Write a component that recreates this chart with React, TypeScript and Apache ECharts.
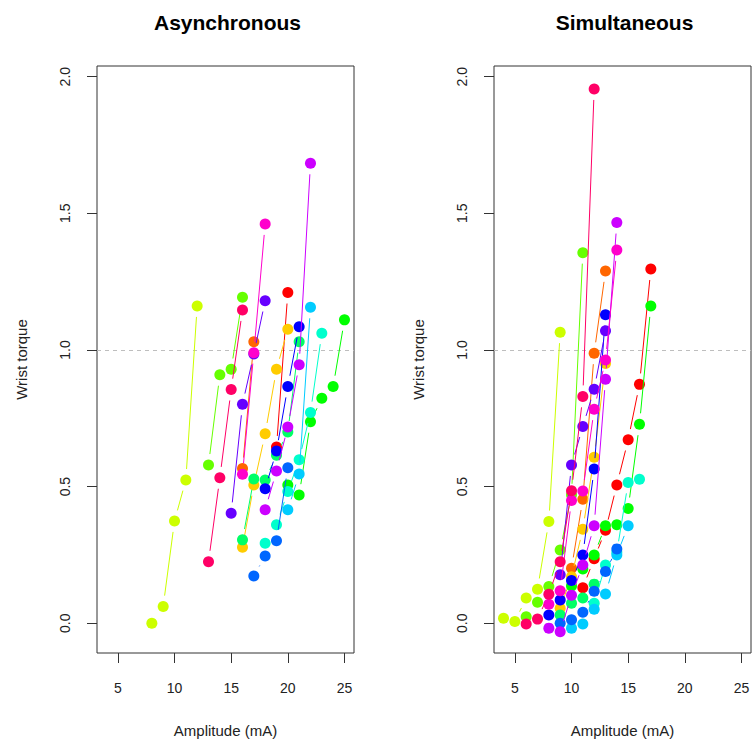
import React, { useEffect, useRef } from "react";
import * as echarts from "echarts";

// Subject colours: HSV rainbow with 15 evenly spaced hues
const rainbow15 = [
  "#FF0000", "#FF6600", "#FFCC00", "#CCFF00", "#66FF00",
  "#00FF00", "#00FF66", "#00FFCC", "#00CCFF", "#0066FF",
  "#0000FF", "#6600FF", "#CC00FF", "#FF00CC", "#FF0066",
];

// Asynchronous stimulation, per subject: [amplitude (mA), wrist torque]
const asyncS01 = [[19, 0.645], [20, 1.21]];
const asyncS02 = [[16, 0.566], [17, 1.03]];
const asyncS03 = [[16, 0.278], [17, 0.506], [18, 0.693], [19, 0.929], [20, 1.076]];
const asyncS04 = [[8, 0.0], [9, 0.061], [10, 0.374], [11, 0.524], [12, 1.161]];
const asyncS05 = [[13, 0.579], [14, 0.909], [15, 0.929], [16, 1.193]];
const asyncS06 = [[20, 0.506], [21, 0.469], [22, 0.737], [23, 0.823], [24, 0.866], [25, 1.11]];
const asyncS07 = [[16, 0.305], [17, 0.528], [18, 0.524], [19, 0.615], [20, 0.7], [21, 1.03]];
const asyncS08 = [[18, 0.293], [19, 0.36], [20, 0.482], [21, 0.598], [22, 0.771], [23, 1.061]];
const asyncS09 = [[20, 0.415], [21, 0.546], [22, 1.156]];
const asyncS10 = [[17, 0.173], [18, 0.246], [19, 0.302], [20, 0.569]];
const asyncS11 = [[18, 0.492], [19, 0.63], [20, 0.866], [21, 1.085]];
const asyncS12 = [[15, 0.402], [16, 0.801], [17, 0.985], [18, 1.18]];
const asyncS13 = [[18, 0.415], [19, 0.557], [20, 0.718], [21, 0.946], [22, 1.683]];
const asyncS14 = [[16, 0.545], [17, 0.99], [18, 1.461]];
const asyncS15 = [[13, 0.225], [14, 0.532], [15, 0.855], [16, 1.146]];

// Simultaneous stimulation, per subject: [amplitude (mA), wrist torque]
const simS01 = [[11, 0.13], [12, 0.236], [13, 0.34], [14, 0.506], [15, 0.671], [16, 0.874], [17, 1.296]];
const simS02 = [[10, 0.201], [11, 0.454], [12, 0.988], [13, 1.289]];
const simS03 = [[9, 0.055], [10, 0.17], [11, 0.344], [12, 0.607], [13, 0.95]];
const simS04 = [[4, 0.018], [5, 0.006], [6, 0.092], [7, 0.124], [8, 0.372], [9, 1.065]];
const simS05 = [[6, 0.024], [7, 0.077], [8, 0.134], [9, 0.268], [10, 0.47], [11, 1.356]];
const simS06 = [[10, 0.136], [11, 0.198], [12, 0.25], [13, 0.357], [14, 0.36], [15, 0.42], [16, 0.728], [17, 1.161]];
const simS07 = [[9, 0.03], [10, 0.073], [11, 0.092], [12, 0.143]];
const simS08 = [[12, 0.073], [13, 0.213], [14, 0.26], [15, 0.515], [16, 0.527]];
const simS09 = [[10, -0.018], [11, -0.003], [12, 0.051], [13, 0.107], [14, 0.25], [15, 0.357]];
const simS10 = [[9, 0.0], [10, 0.013], [11, 0.04], [12, 0.117], [13, 0.189], [14, 0.272]];
const simS11 = [[8, 0.03], [9, 0.085], [10, 0.156], [11, 0.25], [12, 0.564], [13, 1.129]];
const simS12 = [[9, 0.177], [10, 0.579], [11, 0.72], [12, 0.856], [13, 1.07]];
const simS13 = [[8, -0.018], [9, -0.031], [10, 0.102], [11, 0.213], [12, 0.357], [13, 0.893], [14, 1.466]];
const simS14 = [[8, 0.069], [9, 0.119], [10, 0.449], [11, 0.484], [12, 0.783], [13, 0.963], [14, 1.366]];
const simS15 = [[6, -0.003], [7, 0.015], [8, 0.106], [9, 0.225], [10, 0.485], [11, 0.83], [12, 1.955]];

const asyncData = [
  asyncS01, asyncS02, asyncS03, asyncS04, asyncS05, asyncS06, asyncS07, asyncS08,
  asyncS09, asyncS10, asyncS11, asyncS12, asyncS13, asyncS14, asyncS15,
];
const simData = [
  simS01, simS02, simS03, simS04, simS05, simS06, simS07, simS08,
  simS09, simS10, simS11, simS12, simS13, simS14, simS15,
];

const panelTitles = ["Asynchronous", "Simultaneous"];
const xTicks = [5, 10, 15, 20, 25];
const yTicks = [0, 0.5, 1, 1.5, 2];
const xRange = [3.16, 25.84];
const yRange = [-0.109, 2.039];
const referenceTorque = 1;

const FONT = '"Liberation Sans", Arial, Helvetica, sans-serif';
const GAP = 11; // line stops short of each point, like R's type = "b"
const gridLefts = [97, 494];
const GRID_TOP = 66;
const GRID_W = 257;
const GRID_H = 587;

function panelSeries(data: number[][][], axisIndex: number): any[] {
  const out: any[] = [];
  data.forEach((pts, i) => {
    const color = rainbow15[i];
    const segs = pts.slice(1).map((p, j) => [pts[j][0], pts[j][1], p[0], p[1]]);
    out.push({
      type: "custom",
      xAxisIndex: axisIndex,
      yAxisIndex: axisIndex,
      z: 10 + 2 * i,
      silent: true,
      clip: false,
      encode: { x: [0, 2], y: [1, 3] },
      data: segs,
      renderItem: (_params: any, api: any) => {
        const a = api.coord([api.value(0), api.value(1)]);
        const b = api.coord([api.value(2), api.value(3)]);
        const dx = b[0] - a[0];
        const dy = b[1] - a[1];
        const len = Math.hypot(dx, dy);
        if (len <= 2 * GAP) return { type: "group", children: [] };
        const ux = dx / len;
        const uy = dy / len;
        return {
          type: "line",
          shape: {
            x1: a[0] + ux * GAP,
            y1: a[1] + uy * GAP,
            x2: b[0] - ux * GAP,
            y2: b[1] - uy * GAP,
          },
          style: { stroke: color, lineWidth: 1 },
        };
      },
    });
    const scatter: any = {
      type: "scatter",
      xAxisIndex: axisIndex,
      yAxisIndex: axisIndex,
      z: 11 + 2 * i,
      silent: true,
      symbol: "circle",
      symbolSize: 11,
      itemStyle: { color, opacity: 1 },
      data: pts,
    };
    if (i === data.length - 1) {
      scatter.markLine = {
        silent: true,
        symbol: ["none", "none"],
        label: { show: false },
        lineStyle: { color: "#BEBEBE", type: [4, 4], width: 1 },
        data: [{ yAxis: referenceTorque }],
      };
    }
    out.push(scatter);
  });
  return out;
}

export default function App() {
  const ref = useRef<HTMLDivElement>(null);

  useEffect(() => {
    if (!ref.current) return;
    const chart = echarts.init(ref.current, undefined, { renderer: "svg" });

    const grids = gridLefts.map((left) => ({
      left,
      top: GRID_TOP,
      width: GRID_W,
      height: GRID_H,
      show: true,
      borderColor: "#333",
      borderWidth: 1,
      backgroundColor: "transparent",
    }));

    const xAxes = gridLefts.map((_, k) => ({
      gridIndex: k,
      type: "value",
      position: "bottom",
      min: xRange[0],
      max: xRange[1],
      splitLine: { show: false },
      axisLine: { show: false, onZero: false },
      axisTick: {
        show: true,
        inside: false,
        length: 10,
        lineStyle: { color: "#333", width: 1 },
        customValues: xTicks,
      },
      axisLabel: {
        customValues: xTicks,
        margin: 28,
        fontSize: 14,
        color: "#222",
        fontFamily: FONT,
      },
      name: "Amplitude (mA)",
      nameLocation: "middle",
      nameGap: 70,
      nameTextStyle: { fontSize: 15, color: "#222", fontFamily: FONT },
    }));

    const yAxes = gridLefts.map((_, k) => ({
      gridIndex: k,
      type: "value",
      position: "left",
      min: yRange[0],
      max: yRange[1],
      splitLine: { show: false },
      axisLine: { show: false, onZero: false },
      axisTick: {
        show: true,
        inside: false,
        length: 10,
        lineStyle: { color: "#333", width: 1 },
        customValues: yTicks,
      },
      axisLabel: {
        customValues: yTicks,
        rotate: 90,
        margin: 25,
        fontSize: 14,
        color: "#222",
        fontFamily: FONT,
        formatter: (v: number) => v.toFixed(1),
      },
      name: "Wrist torque",
      nameLocation: "middle",
      nameGap: 68,
      nameTextStyle: { fontSize: 15, color: "#222", fontFamily: FONT },
    }));

    const titles = panelTitles.map((text, k) => ({
      type: "text",
      x: gridLefts[k] + GRID_W / 2 + 2,
      y: 22,
      style: {
        text,
        fill: "#000",
        font: `bold 21px ${FONT}`,
        align: "center",
        verticalAlign: "middle",
      },
    }));

    chart.setOption({
      animation: false,
      backgroundColor: "#fff",
      grid: grids,
      xAxis: xAxes,
      yAxis: yAxes,
      graphic: titles,
      series: [...panelSeries(asyncData, 0), ...panelSeries(simData, 1)],
    });

    return () => chart.dispose();
  }, []);

  return (
    <div
      ref={ref}
      style={{ position: "fixed", left: 0, top: 0, width: 754, height: 749 }}
    />
  );
}
